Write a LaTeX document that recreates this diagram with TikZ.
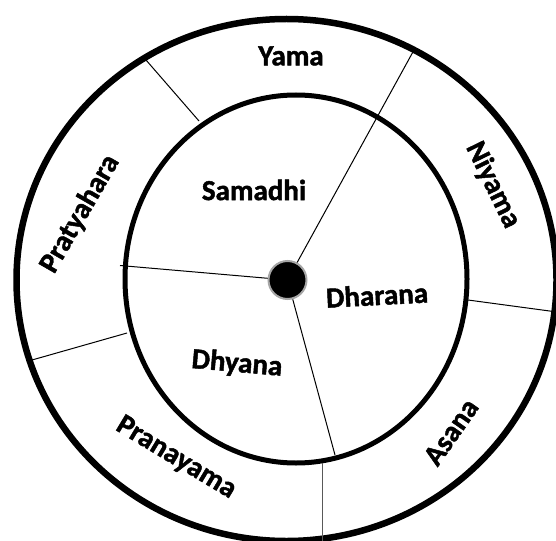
\documentclass[tikz,border=0pt]{standalone}
\usepackage{fontspec}
\setmainfont{Carlito}[BoldFeatures={FakeBold=1.6}]
\begin{document}
\begin{tikzpicture}[x=1pt,y=-1pt,
    lbl/.style={font=\fontsize{29}{30}\selectfont\bfseries, inner sep=0pt},
    spoke/.style={line width=1pt},
    rim/.style={line width=6.5pt}]
  \useasboundingbox (0,0) rectangle (556,540);
  % outer and inner wheel
  \draw[rim] (286.5,280) ellipse [x radius=270, y radius=261];
  \draw[line width=5pt] (296,279) ellipse [x radius=171, y radius=184];

  % hub with its three spokes
  \node[circle, fill=black, draw=gray!70, line width=2pt, minimum size=38pt] (hub) at (287.5,280) {};
  \coordinate (spokeR) at (414,50);
  \coordinate (spokeL) at (120,265.5);
  \coordinate (spokeB) at (335,455);
  \draw[spoke] (hub) -- (spokeR);
  \draw[spoke] (hub) -- (spokeL);
  \draw[spoke] (hub) -- (spokeB);

  % dividers of the outer ring
  \coordinate (pyIn) at (199,121);   \coordinate (pyOut) at (146,60);
  \coordinate (naIn) at (468,300);   \coordinate (naOut) at (557,312);
  \coordinate (apIn) at (322,463);   \coordinate (apOut) at (322,545);
  \coordinate (ppIn) at (127,333);   \coordinate (ppOut) at (32,360);
  \draw[spoke] (pyIn) -- (pyOut);
  \draw[spoke] (naIn) -- (naOut);
  \draw[spoke, black!65] (apIn) -- (apOut);
  \draw[spoke] (ppIn) -- (ppOut);

  % outer limbs
  \node[lbl] (yama) at (291,56) {Yama};
  \node[lbl, rotate=-64] (niyama) at (493,185) {Niyama};
  \node[lbl, rotate=55] (asana) at (451,432) {Asana};
  \node[lbl, rotate=-31] (pranayama) at (176,458) {Pranayama};
  \node[lbl, rotate=60] (pratyahara) at (80,214) {Pratyahara};
  % inner limbs
  \node[lbl] (samadhi) at (254,190) {Samadhi};
  \node[lbl, rotate=3] (dharana) at (377,295) {Dharana};
  \node[lbl, rotate=-5] (dhyana) at (237,364) {Dhyana};
\end{tikzpicture}
\end{document}
